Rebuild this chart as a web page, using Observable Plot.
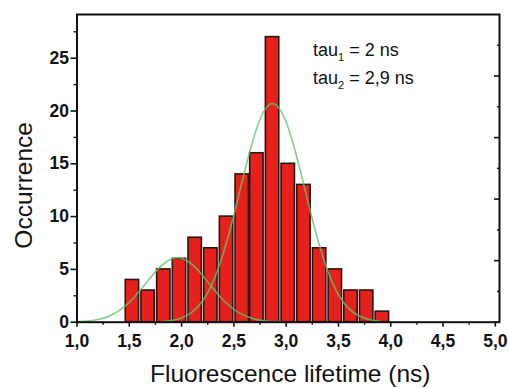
<!DOCTYPE html>
<html>
<head>
<meta charset="utf-8">
<script src="https://cdn.jsdelivr.net/npm/d3@7"></script>
<script src="https://cdn.jsdelivr.net/npm/@observablehq/plot@0.6"></script>
<style>
  html, body { margin: 0; padding: 0; background: #fff; }
  #chart { width: 509px; height: 388px; overflow: hidden; }
</style>
</head>
<body>
<div id="chart"></div>
<script>
// Histogram bins (centre of each bar, ns) and occurrences
const binCenters = [1.53, 1.68, 1.83, 1.98, 2.13, 2.28, 2.43, 2.58, 2.72, 2.87, 3.02, 3.17, 3.32, 3.47, 3.62, 3.77, 3.92];
const counts     = [4, 3, 5, 6, 8, 7, 10, 14, 16, 27, 15, 13, 7, 5, 3, 3, 1];

// Fitted curve 1 (tau1 = 2 ns)
const fit1X = [1.0, 1.1, 1.2, 1.3, 1.4, 1.5, 1.6, 1.7, 1.8, 1.9, 2.0, 2.1, 2.2, 2.3, 2.4, 2.5, 2.6, 2.7, 2.8, 2.9, 3.0];
const fit1Y = [0.04, 0.10, 0.25, 0.54, 1.07, 1.88, 2.97, 4.19, 5.29, 5.98, 6.05, 5.47, 4.43, 3.21, 2.08, 1.21, 0.63, 0.29, 0.12, 0.05, 0.02];

// Fitted curve 2 (tau2 = 2,9 ns)
const fit2X = [1.8, 1.9, 2.0, 2.1, 2.2, 2.3, 2.4, 2.5, 2.6, 2.7, 2.8, 2.9, 3.0, 3.1, 3.2, 3.3, 3.4, 3.5, 3.6, 3.7, 3.8, 3.9];
const fit2Y = [0.05, 0.16, 0.40, 0.95, 2.00, 3.82, 6.56, 10.15, 14.17, 17.81, 20.18, 20.60, 18.96, 15.72, 11.75, 7.91, 4.80, 2.62, 1.29, 0.58, 0.23, 0.08];

// Axis ticks
const xTicks = [1.0, 1.5, 2.0, 2.5, 3.0, 3.5, 4.0, 4.5, 5.0];
const xMinorTicks = [1.25, 1.75, 2.25, 2.75, 3.25, 3.75, 4.25, 4.75];
const yTicks = [0, 5, 10, 15, 20, 25];
const yMinorTicks = [2.5, 7.5, 12.5, 17.5, 22.5, 27.5];
const rightMajorTicks = [0, 5.83, 11.66, 17.48, 23.31];
const rightMinorTicks = [2.91, 8.74, 14.57, 20.40, 26.23];

// Texts
const xTitle = "Fluorescence lifetime (ns)";
const yTitle = "Occurrence";
const annotations = ["tau_1 = 2 ns", "tau_2 = 2,9 ns"];

const bars = binCenters.map((c, i) => ({c, n: counts[i]}));
const fit1 = fit1X.map((x, i) => ({x, y: fit1Y[i]}));
const fit2 = fit2X.map((x, i) => ({x, y: fit2Y[i]}));
const half = 0.064;
const commaFmt = d => d.toFixed(1).replace(".", ",");

const font = "'Liberation Sans', Arial, Helvetica, sans-serif";

const chart = Plot.plot({
  width: 509,
  height: 388,
  marginTop: 14,
  marginLeft: 76.5,
  marginRight: 10,
  marginBottom: 66.3,
  style: {fontFamily: font, background: "white", color: "#111", overflow: "visible"},
  x: {domain: [1, 5.04]},
  y: {domain: [0, 29.14]},
  marks: [
    Plot.rectY(bars, {x1: d => d.c - half, x2: d => d.c + half, y: "n", fill: "#e8201c", stroke: "#2a1612", strokeWidth: 1.6}),
    Plot.line(fit1, {x: "x", y: "y", curve: "natural", stroke: "#5cc46e", strokeWidth: 1.6, strokeOpacity: 0.8}),
    Plot.line(fit2, {x: "x", y: "y", curve: "natural", stroke: "#5cc46e", strokeWidth: 1.6, strokeOpacity: 0.8}),
    Plot.axisX({ticks: xTicks, tickSize: 5, tickPadding: 7, tickFormat: commaFmt, fontSize: 17.5, fontWeight: "bold", strokeWidth: 1.6, label: null}),
    Plot.axisX({ticks: xMinorTicks, tickSize: 3, tickFormat: () => "", strokeWidth: 1.4, label: null}),
    Plot.axisY({ticks: yTicks, tickSize: 6, tickPadding: 2, tickFormat: d => String(d), fontSize: 17.5, fontWeight: "bold", strokeWidth: 1.6, label: null}),
    Plot.axisY({ticks: yMinorTicks, tickSize: 3, tickFormat: () => "", strokeWidth: 1.4, label: null}),
    Plot.axisY({anchor: "right", ticks: rightMajorTicks, tickSize: -6, tickFormat: () => "", strokeWidth: 1.6, label: null}),
    Plot.axisY({anchor: "right", ticks: rightMinorTicks, tickSize: -3, tickFormat: () => "", strokeWidth: 1.4, label: null}),
    Plot.frame({stroke: "#111", strokeWidth: 2}),
    Plot.text([xTitle], {text: d => d, frameAnchor: "bottom", textAnchor: "middle", dx: 2, dy: 60, fontSize: 24.5, fill: "#111"}),
    Plot.text([yTitle], {text: d => d, frameAnchor: "left", textAnchor: "middle", rotate: -90, dx: -53, dy: 17, fontSize: 24.5, fill: "#111"}),
    Plot.text(annotations, {text: d => d, frameAnchor: "top-left", textAnchor: "start", fontSize: 18, fill: "#111"})
  ]
});
document.getElementById("chart").appendChild(chart);

// Place annotation lines and render subscripts
const ns = "http://www.w3.org/2000/svg";
const annTexts = Array.from(chart.querySelectorAll("text")).filter(t => /tau_\d/.test(t.textContent));
annTexts.forEach((t, i) => {
  const s = t.textContent;
  const m = s.match(/^(.*?)_(\d)(.*)$/);
  t.textContent = "";
  ["x", "y", "dx", "dy"].forEach(a => t.removeAttribute(a));
  t.setAttribute("transform", `translate(312.5,${55 + i * 28})`);
  const a = document.createElementNS(ns, "tspan"); a.textContent = m[1];
  const b = document.createElementNS(ns, "tspan"); b.textContent = m[2]; b.setAttribute("font-size", "11"); b.setAttribute("dy", "5");
  const c = document.createElementNS(ns, "tspan"); c.textContent = m[3]; c.setAttribute("dy", "-5");
  t.appendChild(a); t.appendChild(b); t.appendChild(c);
});
</script>
</body>
</html>
